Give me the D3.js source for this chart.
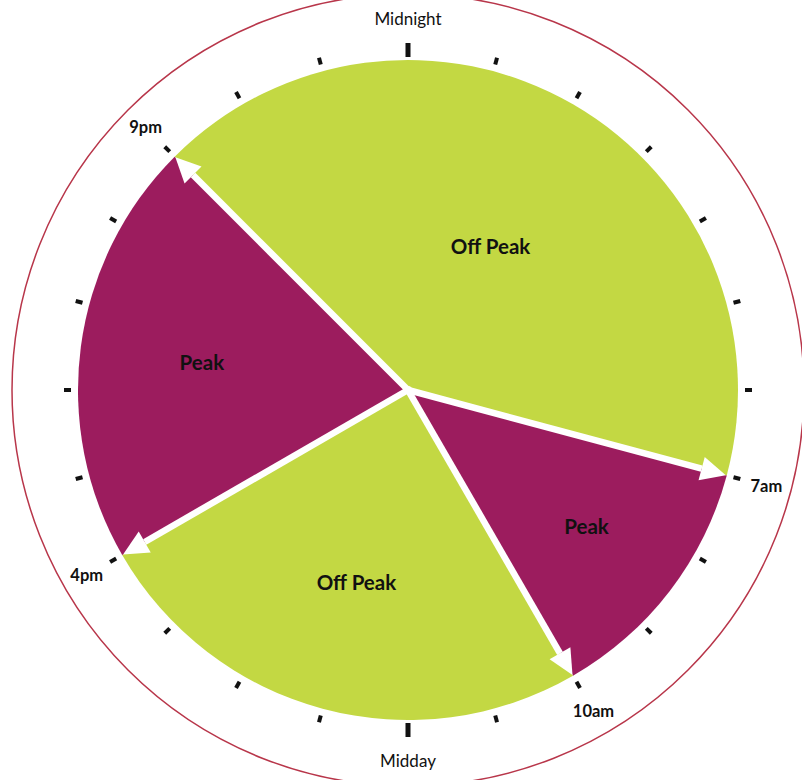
<!DOCTYPE html>
<html>
<head>
<meta charset="utf-8">
<script src="https://cdn.jsdelivr.net/npm/d3@7"></script>
<style>
  body { margin: 0; background: #fff; }
  svg { display: block; font-family: Lato, "Open Sans", sans-serif; }
</style>
</head>
<body>
<svg width="802" height="780"></svg>
<script>
var width = 802;
var height = 780;
var cx = 408, cy = 390;
var radius = 330;

// periods going clockwise from 9pm
var periods = ["Off Peak", "Peak", "Off Peak", "Peak"];
var hours = [10, 3, 6, 5];
var startHour = 21;

// hour labels round the dial
var labelHours = [0, 7, 10, 12, 16, 21];
var labelText = ["Midnight", "7am", "10am", "Midday", "4pm", "9pm"];

var colors = { "Off Peak": "#c3d843", "Peak": "#9c1c5e" };

var svg = d3.select("svg");
var g = svg.append("g").attr("transform", "translate(" + cx + "," + cy + ")");

var hourScale = d3.scaleLinear().domain([0, 24]).range([0, 2 * Math.PI]);

// outer ring
g.append("circle")
    .attr("r", 396)
    .attr("fill", "none")
    .attr("stroke", "#b8364a")
    .attr("stroke-width", 1.5);

var pie = d3.pie()
    .sort(null)
    .value(d => d)
    .startAngle(hourScale(startHour) - 2 * Math.PI)
    .endAngle(hourScale(startHour));

var arcs = pie(hours);

var arc = d3.arc().innerRadius(0).outerRadius(radius);

g.selectAll("path.slice")
  .data(arcs)
  .enter()
  .append("path")
    .attr("class", "slice")
    .attr("d", arc)
    .attr("fill", (d, i) => colors[periods[i]]);

// white arrows on each boundary
function pt(a, r) { return [r * Math.sin(a), -r * Math.cos(a)]; }

g.selectAll("g.arrow")
  .data(arcs)
  .enter()
  .append("g")
    .attr("class", "arrow")
  .each(function(d) {
    var a = d.startAngle;
    var tip = pt(a, radius - 1);
    var base = pt(a, radius - 26);
    var nx = Math.cos(a), ny = Math.sin(a);
    var sel = d3.select(this);
    sel.append("line")
        .attr("x1", 0).attr("y1", 0)
        .attr("x2", base[0]).attr("y2", base[1])
        .attr("stroke", "#fff")
        .attr("stroke-width", 6.5);
    sel.append("path")
        .attr("d", "M" + tip + "L" + [base[0] + nx * 12, base[1] + ny * 12] +
                   "L" + [base[0] - nx * 12, base[1] - ny * 12] + "Z")
        .attr("fill", "#fff");
  });

g.append("circle").attr("r", 4).attr("fill", "#fff");

// slice labels
g.selectAll("text.period")
  .data(arcs)
  .enter()
  .append("text")
    .attr("class", "period")
    .attr("transform", d => {
      var mid = (d.startAngle + d.endAngle) / 2;
      var p = pt(mid, radius * (0.76 - 0.026 * d.data));
      return "translate(" + p + ")";
    })
    .attr("text-anchor", "middle")
    .attr("dy", "0.35em")
    .attr("font-size", 20.5)
    .attr("font-weight", "bold")
    .attr("fill", "#111")
    .text((d, i) => periods[i]);

// hour ticks
g.selectAll("rect.tick")
  .data(d3.range(24))
  .enter()
  .append("rect")
    .attr("class", "tick")
    .attr("x", d => d % 12 === 0 ? -2.5 : -2)
    .attr("width", d => d % 12 === 0 ? 5 : 4)
    .attr("y", d => d % 12 === 0 ? -347 : -344)
    .attr("height", d => d % 12 === 0 ? 14 : 7)
    .attr("fill", "#111")
    .attr("transform", d => "rotate(" + (hourScale(d) * 180 / Math.PI) + ")");

// hour labels
g.selectAll("text.hour")
  .data(labelHours)
  .enter()
  .append("text")
    .attr("class", "hour")
    .attr("transform", d => "translate(" + pt(hourScale(d), 371) + ")")
    .attr("text-anchor", "middle")
    .attr("dy", "0.35em")
    .attr("font-size", d => d % 12 === 0 ? 17 : 16.5)
    .attr("font-weight", d => d % 12 === 0 ? "normal" : "bold")
    .attr("fill", "#111")
    .text((d, i) => labelText[i]);
</script>
</body>
</html>
